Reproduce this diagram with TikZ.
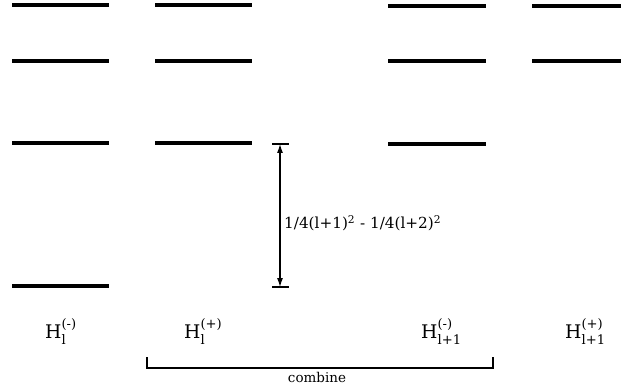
\documentclass[tikz,border=0pt]{standalone}
\usepackage{amsmath}
\usepackage{fontspec}
\setmainfont{DejaVu Serif}
\usetikzlibrary{positioning, arrows.meta}

\begin{document}
\begin{tikzpicture}[x=0.03cm, y=-0.03cm,
      level/.style={line width=2.6pt},
      thin line/.style={line width=1pt},
      hlabel/.style={anchor=base west, inner sep=0pt, font=\fontsize{16}{18}\selectfont},
      >={Latex[length=7.5pt, width=5pt]}]
    \useasboundingbox (0,0) rectangle (621,389);
    % levels, one column per Hamiltonian
    \foreach \y in {5,61,143,286} \draw[level] (12,\y) -- (109,\y);
    \foreach \y in {5,61,143} \draw[level] (155,\y) -- (252,\y);
    \foreach \y in {6,61,144} \draw[level] (388,\y) -- (486,\y);
    \foreach \y in {6,61} \draw[level] (532,\y) -- (621,\y);
    % gap
    \coordinate (gtop) at (280,144);
    \coordinate (gbot) at (280,287);
    \draw[thin line] (272,144) -- (289,144);
    \draw[thin line] (272,287) -- (289,287);
    \draw[thin line, <->] (gtop) -- (gbot);
    \node[anchor=west, inner sep=0pt, font=\fontsize{13}{15}\selectfont] (gap) at (284,223)
      {1/4(l+1)\textsuperscript{2} - 1/4(l+2)\textsuperscript{2}};
    % labels
    \node[hlabel] (hlm) at (45,338) {$\text{H}^{\text{(-)}}_{\text{l}}$};
    \node[hlabel] (hlp) at (184,338) {$\text{H}^{\text{(+)}}_{\text{l}}$};
    \node[hlabel] (hnm) at (421,338) {$\text{H}^{\text{(-)}}_{\text{l+1}}$};
    \node[hlabel] (hnp) at (565,338) {$\text{H}^{\text{(+)}}_{\text{l+1}}$};
    % bracket
    \coordinate (bl) at (147,357);
    \coordinate (br) at (493,357);
    \draw[thin line] (bl) -- ++(0,11) -| (br);
    \node[anchor=base, inner sep=0pt, font=\fontsize{11.5}{13}\selectfont] (comb) at (317,382) {combine};
  \end{tikzpicture}
\end{document}
